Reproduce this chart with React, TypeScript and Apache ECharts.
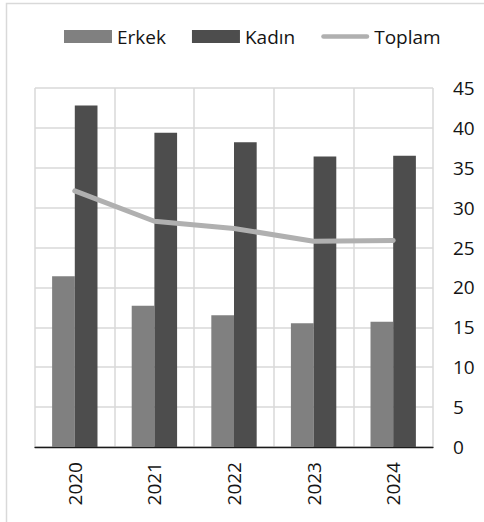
import React, { useEffect, useRef } from "react";
import * as echarts from "echarts";

const categories = ["2020", "2021", "2022", "2023", "2024"];
const erkek = [21.4, 17.7, 16.5, 15.5, 15.7];
const kadin = [42.8, 39.4, 38.2, 36.4, 36.5];
const toplam = [32.1, 28.3, 27.4, 25.8, 25.9];

const FONT = "'Open Sans', 'Noto Sans', sans-serif";
const TEXT = "#141414";
const LINE_ICON = "path://M2.5,0 H50.5 A2.5,2.5 0 0 1 50.5,5 H2.5 A2.5,2.5 0 0 1 2.5,0 Z";

export default function App() {
  const ref = useRef<HTMLDivElement>(null);
  useEffect(() => {
    if (!ref.current) return;
    const chart = echarts.init(ref.current, null, { renderer: "svg" });
    chart.setOption({
      animation: false,
      backgroundColor: "#ffffff",
      textStyle: { fontFamily: FONT },
      graphic: [
        {
          type: "rect",
          shape: { x: 6.5, y: 3.5, width: 600, height: 700 },
          style: { fill: "none", stroke: "#d9d9d9", lineWidth: 1.5 },
          silent: true,
          z: -10,
        },
      ],
      legend: {
        left: 64,
        top: 27,
        padding: 0,
        itemWidth: 48,
        itemHeight: 13,
        itemGap: 26,
        symbolKeepAspect: true,
        textStyle: { fontFamily: FONT, fontSize: 19, color: TEXT },
        data: [
          { name: "Erkek", icon: "rect" },
          { name: "Kadın", icon: "rect" },
          { name: "Toplam", icon: LINE_ICON, itemStyle: { color: "#b0b0b0" } },
        ],
      },
      grid: { left: 35, right: 51, top: 88, bottom: 75, containLabel: false },
      xAxis: {
        type: "category",
        data: categories,
        boundaryGap: true,
        axisLine: { show: true, lineStyle: { color: "#1a1a1a", width: 1.3 } },
        axisTick: { show: false },
        splitLine: { show: true, lineStyle: { color: "#d9d9d9", width: 1.5 } },
        axisLabel: {
          rotate: 90,
          margin: 15,
          fontFamily: FONT,
          fontSize: 19,
          color: TEXT,
        },
      },
      yAxis: {
        type: "value",
        position: "right",
        min: 0,
        max: 45,
        interval: 5,
        axisLine: { show: false },
        axisTick: { show: false },
        splitLine: { show: true, lineStyle: { color: "#d9d9d9", width: 1.5 } },
        axisLabel: {
          margin: 20,
          fontFamily: FONT,
          fontSize: 19,
          color: TEXT,
        },
      },
      series: [
        {
          name: "Erkek",
          type: "bar",
          data: erkek,
          barGap: "0%",
          barCategoryGap: "43%",
          itemStyle: { color: "#808080" },
        },
        {
          name: "Kadın",
          type: "bar",
          data: kadin,
          itemStyle: { color: "#4d4d4d" },
        },
        {
          name: "Toplam",
          type: "line",
          data: toplam,
          symbol: "none",
          lineStyle: { color: "#b0b0b0", width: 5, cap: "round", join: "round" },
          itemStyle: { color: "#b0b0b0" },
          z: 5,
        },
      ],
    });
    return () => chart.dispose();
  }, []);
  return (
    <div
      ref={ref}
      style={{ position: "fixed", left: 0, top: 0, width: 484, height: 522 }}
    />
  );
}
